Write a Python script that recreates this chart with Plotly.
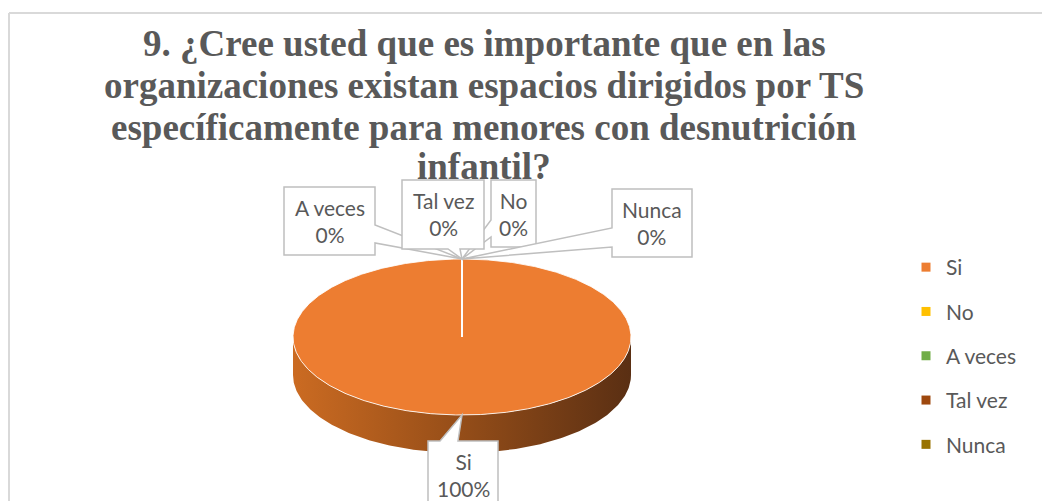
import numpy as np
import plotly.graph_objects as go

# ---------------- data ----------------
categories = ["Si", "No", "A veces", "Tal vez", "Nunca"]
values = [100, 0, 0, 0, 0]
colors = ["#ED7D31", "#FFC000", "#70AD47", "#9E480E", "#997300"]
title_lines = [
    "9. ¿Cree usted que es importante que en las",
    "organizaciones existan espacios dirigidos por TS",
    "específicamente para menores con desnutrición",
    "infantil?",
]

# ---------------- layout geometry (page pixels) ----------------
PAGE_W, PAGE_H = 1042, 501
CX, CY, RX, RY, DEPTH = 462, 337, 169, 78, 38
TEXT_COLOR = "#595959"
LABEL_FONT = "Lato"
LABEL_SIZE = 21

def pt(theta_deg, dy=0.0):
    t = np.deg2rad(theta_deg)
    return CX + RX * np.sin(t), CY - RY * np.cos(t) + dy

total = float(sum(values))
fig = go.Figure()

# slices (angles clockwise from 12 o'clock)
start = 0.0
spans = []
for cat, v in zip(categories, values):
    sweep = 360.0 * v / total
    spans.append((start, start + sweep))
    start += sweep

# side walls (front half: 90..270 deg)
side_scales = {
    "#ED7D31": [[0, "#CB6B22"], [0.45, "#9A5019"], [1, "#5A2F13"]],
}
for (a0, a1), cat, col in zip(spans, categories, colors):
    lo, hi = max(a0, 90.0), min(a1, 270.0)
    if hi <= lo:
        continue
    th = np.linspace(lo, hi, 200)
    xs_top, ys_top = pt(th)
    xs_bot, ys_bot = pt(th[::-1], DEPTH)
    xs = np.concatenate([xs_top, xs_bot, xs_top[:1]])
    ys = np.concatenate([ys_top, ys_bot, ys_top[:1]])
    fig.add_trace(go.Scatter(
        x=xs, y=ys, mode="lines", fill="toself",
        line=dict(width=0, color="rgba(0,0,0,0)"),
        fillgradient=dict(type="horizontal",
                          colorscale=side_scales.get(col, [[0, col], [1, col]])),
        hoverinfo="skip", showlegend=False))

# top faces
for (a0, a1), cat, col in zip(spans, categories, colors):
    th = np.linspace(a0, a1, max(2, int(a1 - a0) * 2))
    ex, ey = pt(th)
    xs = np.concatenate([[CX], ex, [CX]])
    ys = np.concatenate([[CY], ey, [CY]])
    fig.add_trace(go.Scatter(
        x=xs, y=ys, mode="lines", fill="toself", fillcolor=col,
        line=dict(width=1, color="rgba(255,255,255,0.85)"),
        name=cat, hoverinfo="skip", showlegend=False))

# legend entries
for i, (cat, col) in enumerate(zip(categories, colors)):
    fig.add_trace(go.Scatter(
        x=[None], y=[None], mode="markers", name=cat,
        marker=dict(symbol="square", size=9, color=col),
        legendgroup=f"g{i}", showlegend=True))

# ---------------- callouts ----------------
callouts = {
    "Si":      dict(box=(428, 441, 498, 520), side="top",    base=(440, 458)),
    "No":      dict(box=(491, 180, 536, 247), side="left",   base=(220, 237)),
    "A veces": dict(box=(284, 187, 375, 255), side="right",  base=(225, 243)),
    "Tal vez": dict(box=(402, 180, 484, 249), side="bottom", base=(448, 460)),
    "Nunca":   dict(box=(612, 189, 692, 257), side="left",   base=(228, 247)),
}

def callout_path(box, side, base, tip):
    x0, y0, x1, y1 = box
    tx, ty = tip
    b0, b1 = base
    if side == "right":
        p = [(x0, y0), (x1, y0), (x1, b0), (tx, ty), (x1, b1), (x1, y1), (x0, y1)]
    elif side == "left":
        p = [(x0, y0), (x1, y0), (x1, y1), (x0, y1), (x0, b1), (tx, ty), (x0, b0)]
    elif side == "bottom":
        p = [(x0, y0), (x1, y0), (x1, y1), (b1, y1), (tx, ty), (b0, y1), (x0, y1)]
    else:  # top
        p = [(x0, y0), (b0, y0), (tx, ty), (b1, y0), (x1, y0), (x1, y1), (x0, y1)]
    return "M " + " L ".join(f"{a:.1f},{b:.1f}" for a, b in p) + " Z"

shapes = []
annotations = []
for (a0, a1), cat, v in zip(spans, categories, values):
    mid = (a0 + a1) / 2.0
    tip = pt(mid)
    c = callouts[cat]
    shapes.append(dict(type="path", xref="x", yref="y",
                       path=callout_path(c["box"], c["side"], c["base"], tip),
                       line=dict(color="#BFBFBF", width=1.5),
                       fillcolor="white", layer="above"))
    bx0, by0, bx1, by1 = c["box"]
    pct = f"{round(100 * v / total)}%"
    annotations.append(dict(
        x=(bx0 + bx1) / 2, y=(by0 + min(by1, by0 + 68)) / 2,
        xref="x", yref="y", text=f"{cat}<br>{pct}", showarrow=False,
        font=dict(family=LABEL_FONT, size=LABEL_SIZE, color=TEXT_COLOR),
        align="center", xanchor="center", yanchor="middle"))

# chart border (only left and top edges are visible in the frame)
border = dict(color="#D9D9D9", width=2)
shapes.insert(0, dict(type="line", xref="x", yref="y", x0=9, y0=13, x1=PAGE_W, y1=13,
                      line=border, layer="below"))
shapes.insert(0, dict(type="line", xref="x", yref="y", x0=9, y0=13, x1=9, y1=PAGE_H,
                      line=border, layer="below"))

# title, one annotation per line
title_y = [43, 85, 127, 166]
for line, yy in zip(title_lines, title_y):
    annotations.insert(0, dict(
        x=484, y=yy, xref="x", yref="y", xanchor="center", yanchor="middle",
        text=f"<b>{line}</b>", showarrow=False,
        font=dict(family="Liberation Serif", size=37, color=TEXT_COLOR)))

fig.update_layout(
    width=PAGE_W, height=PAGE_H,
    margin=dict(l=0, r=0, t=0, b=0),
    paper_bgcolor="white", plot_bgcolor="white",
    xaxis=dict(range=[0, PAGE_W], visible=False, fixedrange=True),
    yaxis=dict(range=[PAGE_H, 0], visible=False, fixedrange=True),
    shapes=shapes, annotations=annotations,
    showlegend=True,
    legend=dict(x=906 / PAGE_W, y=1 - 247 / PAGE_H,
                xanchor="left", yanchor="top",
                font=dict(family=LABEL_FONT, size=LABEL_SIZE, color=TEXT_COLOR),
                tracegroupgap=14, bgcolor="rgba(0,0,0,0)", itemwidth=30),
)

fig.write_html(
    "out.html",
    config={"displayModeBar": False},
    post_script="document.body.style.margin='0';document.body.style.overflow='hidden';",
)
